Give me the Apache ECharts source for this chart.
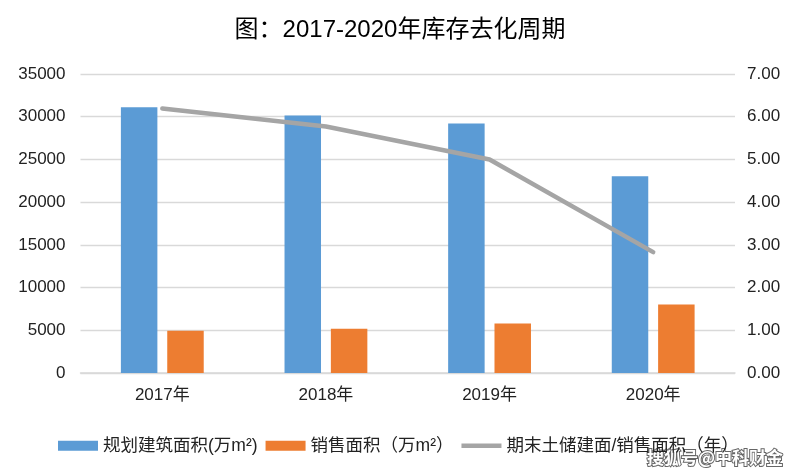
<!DOCTYPE html>
<html><head><meta charset="utf-8">
<script src="https://cdn.jsdelivr.net/npm/echarts@6/dist/echarts.min.js"></script>
<style>html,body{margin:0;padding:0;background:#fff}#c{width:800px;height:474px}</style>
</head><body><div id="c"></div>
<script>
const categories = ['2017年','2018年','2019年','2020年'];
const planArea = [31120, 30150, 29220, 23030];
const salesArea = [4940, 5170, 5790, 8010];
const cycleYears = [6.19, 5.77, 5.00, 2.83];
const leftTicks = {min:0, max:35000, interval:5000};
const rightTicks = {min:0, max:7, interval:1};
const names = ['规划建筑面积(万m²)','销售面积（万m²）','期末土储建面/销售面积（年）'];
const font = '"Liberation Sans","Noto Sans CJK SC",sans-serif';

const chart = echarts.init(document.getElementById('c'), null, {renderer:'canvas'});
chart.setOption({
  animation:false,
  textStyle:{fontFamily:font},
  title:{text:'图：2017-2020年库存去化周期', left:'center', top:13,
    textStyle:{fontSize:24, fontWeight:'normal', color:'#000', fontFamily:font}},
  grid:{left:80.5, right:65, top:74, bottom:101, containLabel:false},
  legend:{left:53, top:432, itemWidth:40, itemHeight:10, itemGap:8,
    textStyle:{fontSize:17.5, color:'#222', fontFamily:font},
    data:[{name:names[0], icon:'rect'},{name:names[1], icon:'rect'},
      {name:names[2], icon:'path://M0,0 L40,0 L40,4.5 L0,4.5 Z'}]},
  xAxis:{type:'category', data:categories,
    axisLine:{lineStyle:{color:'#d9d9d9', width:1.5}}, axisTick:{show:false},
    axisLabel:{fontSize:17, color:'#222', margin:14, fontFamily:font}},
  yAxis:[
    {type:'value', min:leftTicks.min, max:leftTicks.max, interval:leftTicks.interval,
     axisLine:{show:false}, axisTick:{show:false},
     axisLabel:{fontSize:17, color:'#222', margin:15, fontFamily:font,
       formatter:v=>String(v)},
     splitLine:{lineStyle:{color:'#d9d9d9', width:1.3}}},
    {type:'value', min:rightTicks.min, max:rightTicks.max, interval:rightTicks.interval,
     axisLine:{show:false}, axisTick:{show:false},
     axisLabel:{fontSize:17, color:'#222', margin:12, fontFamily:font,
       formatter:v=>v.toFixed(2)},
     splitLine:{show:false}}
  ],
  series:[
    {name:names[0], type:'bar', data:planArea, barWidth:'22.3%', barGap:'27%',
     itemStyle:{color:'#5b9bd5'}},
    {name:names[1], type:'bar', data:salesArea, barWidth:'22.3%', barGap:'27%',
     itemStyle:{color:'#ed7d31'}},
    {name:names[2], type:'line', yAxisIndex:1, data:cycleYears, showSymbol:false,
     symbol:'none', itemStyle:{color:'#a5a5a5'},
     lineStyle:{color:'#a5a5a5', width:4.5, cap:'round', join:'round'}}
  ],
  graphic:[{type:'text', right:16, top:448,
    style:{text:'搜狐号@中科财金', fontSize:17, fontWeight:'bold', fontFamily:'"Noto Sans CJK SC",sans-serif',
      fill:'#fff', stroke:'#666', lineWidth:2}}]
});
</script></body></html>
